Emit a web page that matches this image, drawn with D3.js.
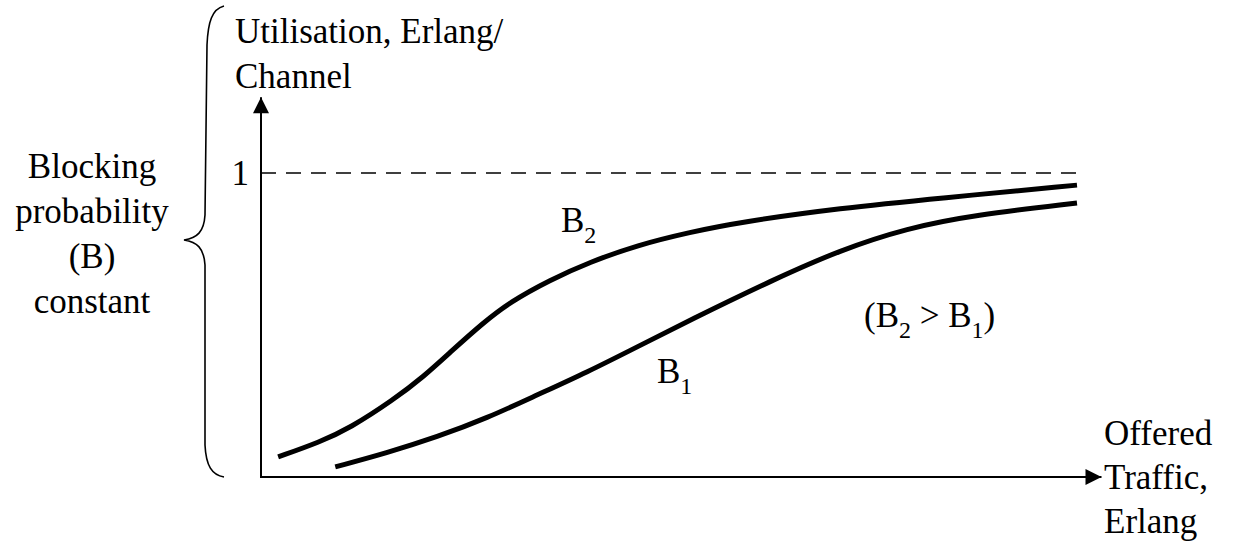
<!DOCTYPE html>
<html>
<head>
<meta charset="utf-8">
<script src="https://cdn.jsdelivr.net/npm/d3@7"></script>
<style>
  body { margin: 0; background: #fff; }
  text { font-family: "Liberation Serif", "Times New Roman", serif; }
</style>
</head>
<body>
<div id="chart"></div>
<script>
// offered traffic (arbitrary units) vs utilisation (Erlang/channel)
var b2Traffic = [0.21, 0.72, 1.09, 1.62, 1.99, 2.35, 2.72, 3.05, 3.54, 4.03, 4.61, 5.26, 5.87, 7.10, 8.32, 10.0],
    b2Util    = [0.063, 0.112, 0.158, 0.251, 0.327, 0.416, 0.505, 0.574, 0.647, 0.706, 0.762, 0.805, 0.838, 0.884, 0.917, 0.960],
    b1Traffic = [0.91, 1.54, 2.16, 2.77, 3.38, 4.00, 4.61, 5.26, 6.27, 7.10, 7.92, 8.73, 10.0],
    b1Util    = [0.030, 0.076, 0.129, 0.191, 0.267, 0.343, 0.426, 0.515, 0.647, 0.746, 0.818, 0.861, 0.901],
    yTicks = [1],
    sideLabel = ["Blocking", "probability", "(B)", "constant"],
    yTitle = ["Utilisation, Erlang/", "Channel"],
    xTitle = ["Offered", "Traffic,", "Erlang"];

var width = 1233,
    height = 548,
    fontSize = 35,
    subSize = 24,
    serif = "Liberation Serif";

var x = d3.scaleLinear().domain([0, 10]).range([261, 1077]),
    y = d3.scaleLinear().domain([0, 1]).range([476, 173]);

var svg = d3.select("#chart").append("svg")
    .attr("width", width)
    .attr("height", height)
    .attr("font-family", serif);

var defs = svg.append("defs");
defs.append("marker")
    .attr("id", "arrow")
    .attr("viewBox", "0 0 10 10")
    .attr("refX", 10)
    .attr("refY", 5)
    .attr("markerUnits", "userSpaceOnUse")
    .attr("markerWidth", 18)
    .attr("markerHeight", 16)
    .attr("orient", "auto")
  .append("path")
    .attr("d", "M0,0 L10,5 L0,10 z")
    .style("fill", "#000");

// axes with arrow heads
svg.append("line")
    .attr("x1", x(0)).attr("y1", y(0) + 1)
    .attr("x2", x(0)).attr("y2", y(1.25))
    .style("stroke", "#000")
    .style("stroke-width", 2)
    .attr("marker-end", "url(#arrow)");

svg.append("line")
    .attr("x1", x(0) - 1).attr("y1", y(0) + 1)
    .attr("x2", x(10.3)).attr("y2", y(0) + 1)
    .style("stroke", "#000")
    .style("stroke-width", 2)
    .attr("marker-end", "url(#arrow)");

// y tick "1"
var yAxis = svg.append("g")
    .attr("transform", "translate(" + x(0) + ",0)")
    .call(d3.axisLeft(y).tickValues(yTicks).tickSize(0).tickPadding(12).tickFormat(d3.format("d")));
yAxis.attr("font-family", serif).attr("font-size", fontSize);
yAxis.select(".domain").remove();
yAxis.selectAll("text")
    .attr("dy", "0.34em")
    .attr("fill", "#000");

// dashed asymptote
svg.append("line")
    .attr("x1", x(0)).attr("y1", y(1))
    .attr("x2", x(10)).attr("y2", y(1))
    .style("stroke", "#000")
    .style("stroke-width", 1.6)
    .style("stroke-dasharray", "15,10");

// curves
var line = d3.line()
    .x(function(d) { return x(d[0]); })
    .y(function(d) { return y(d[1]); })
    .curve(d3.curveBasis);

[[b2Traffic, b2Util], [b1Traffic, b1Util]].forEach(function(s) {
  svg.append("path")
      .datum(d3.zip(s[0], s[1]))
      .attr("d", line)
      .style("fill", "none")
      .style("stroke", "#000")
      .style("stroke-width", 5);
});

// labels with subscripts
function subLabel(px, py, parts) {
  var t = svg.append("text")
      .attr("x", px).attr("y", py)
      .attr("font-family", serif)
      .attr("font-size", fontSize);
  parts.forEach(function(p) {
    var ts = t.append("tspan").text(p[0]);
    if (p[1] === "sub") ts.attr("dy", 11).attr("font-size", subSize);
    if (p[1] === "base") ts.attr("dy", -11);
  });
}
subLabel(561, 232, [["B"], ["2", "sub"]]);
subLabel(657, 383, [["B"], ["1", "sub"]]);
subLabel(864, 327, [["(B"], ["2", "sub"], [" > B", "base"], ["1", "sub"], [")", "base"]]);

// axis titles
svg.append("g").selectAll("text")
    .data(yTitle)
  .enter().append("text")
    .attr("x", 235)
    .attr("y", function(d, i) { return 43 + i * 45; })
    .attr("font-family", serif)
    .attr("font-size", fontSize)
    .text(function(d) { return d; });

svg.append("g").selectAll("text")
    .data(xTitle)
  .enter().append("text")
    .attr("x", 1104)
    .attr("y", function(d, i) { return 445 + i * 44; })
    .attr("font-family", serif)
    .attr("font-size", fontSize)
    .text(function(d) { return d; });

svg.append("g").selectAll("text")
    .data(sideLabel)
  .enter().append("text")
    .attr("x", 92)
    .attr("y", function(d, i) { return 178 + i * 45; })
    .attr("text-anchor", "middle")
    .attr("font-family", serif)
    .attr("font-size", fontSize)
    .text(function(d) { return d; });

// curly brace
svg.append("path")
    .attr("d", "M224,6 C212,9 208,22 207,45 L205,215 C204,232 197,238 184,240 C197,242 204,248 205,265 L205,445 C206,466 212,475 224,477")
    .style("fill", "none")
    .style("stroke", "#000")
    .style("stroke-width", 1.6);
</script>
</body>
</html>
